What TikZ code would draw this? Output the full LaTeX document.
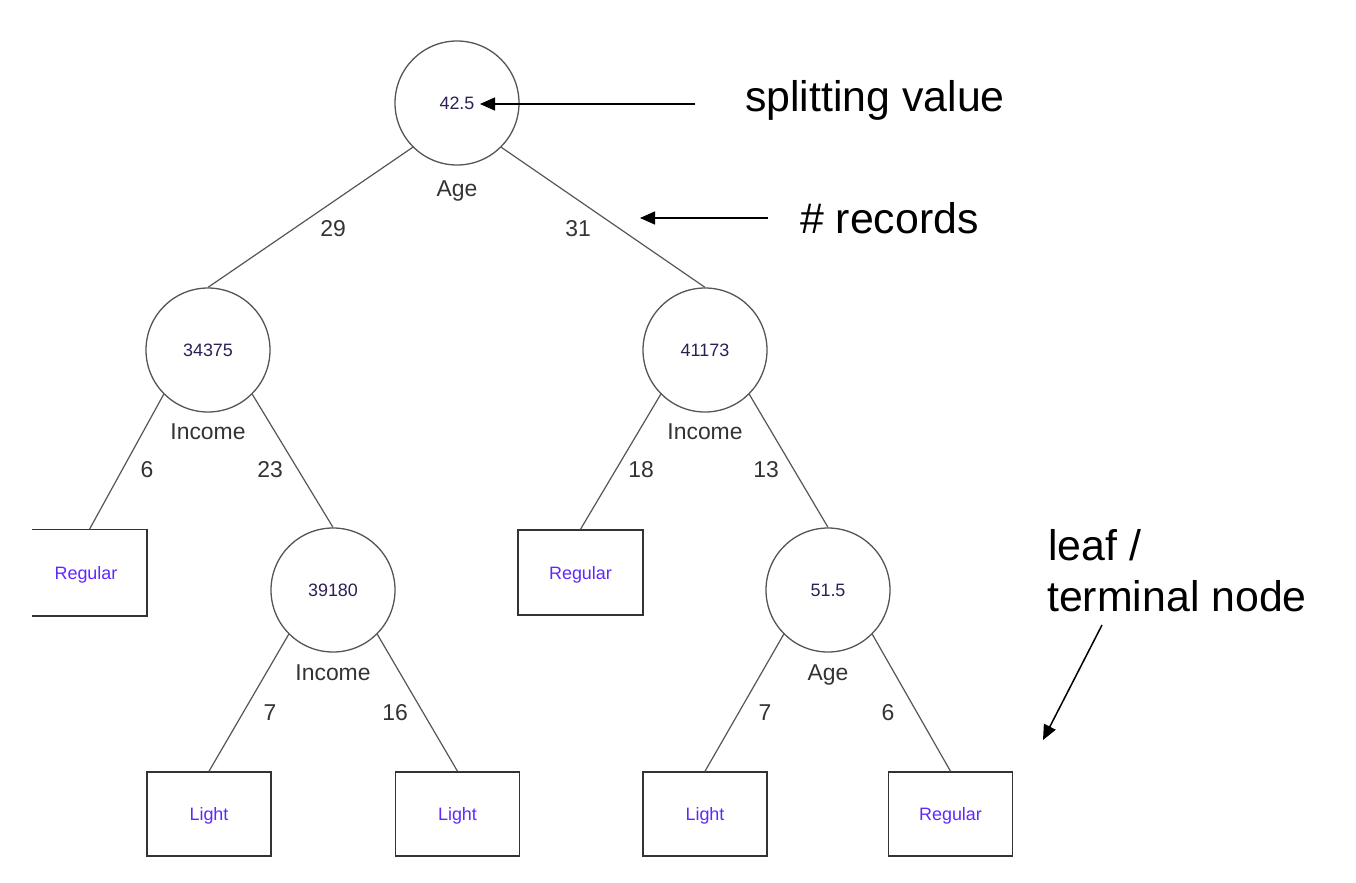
\documentclass[tikz,border=0pt]{standalone}
\usepackage{fontspec}
\setmainfont{Liberation Sans}
\usetikzlibrary{arrows.meta}
\definecolor{edgegray}{HTML}{555555}
\definecolor{txtgray}{HTML}{333333}
\definecolor{numcol}{HTML}{2E1F55}
\definecolor{leafcol}{HTML}{6028FF}
\begin{document}
\begin{tikzpicture}[x=1bp,y=-1bp,
 splitnode/.style={circle,draw=edgegray,line width=1.3bp,minimum size=124bp,inner sep=0pt,font=\fontsize{18}{20}\selectfont,text=numcol},
 leafbox/.style={rectangle,draw=txtgray,line width=1.5bp,minimum width=124bp,minimum height=84bp,inner sep=0pt,font=\fontsize{18}{20}\selectfont,text=leafcol,text height=13bp,text depth=0pt},
 leaftext/.style={inner sep=0pt,font=\fontsize{18}{20}\selectfont,text=leafcol,text height=13bp,text depth=0pt},
 branch/.style={draw=edgegray,line width=1.2bp},
 attrlabel/.style={anchor=base,font=\fontsize{23}{26}\selectfont,text=txtgray,inner sep=0pt},
 countlabel/.style={anchor=center,font=\fontsize{23}{26}\selectfont,text=txtgray,inner sep=0pt},
 annot/.style={font=\fontsize{43}{51}\selectfont,text=black,inner sep=0pt},
 annarrow/.style={-{Triangle[length=15bp,width=13bp]},line width=1.5bp,draw=black}]
\useasboundingbox (0,0) rectangle (1356,882);

% split nodes
\node[splitnode] (root) at (457,103) {42.5};
\node[splitnode] (L) at (208,350) {34375};
\node[splitnode] (R) at (705,350) {41173};
\node[splitnode] (LR) at (333,590) {39180};
\node[splitnode] (RR) at (828,590) {51.5};

% attribute labels
\node[attrlabel] (rootattr) at (457,196) {Age};
\node[attrlabel] (Lattr) at (208,439) {Income};
\node[attrlabel] (Rattr) at (705,439) {Income};
\node[attrlabel] (LRattr) at (333,680) {Income};
\node[attrlabel] (RRattr) at (828,680) {Age};

% leaves
\node[leafbox,draw=none,minimum width=113bp,minimum height=85bp] (LL) at (89.5,572.5) {};
\draw[draw=txtgray,line width=1.5bp] (LL.north west) -- (LL.north east) -- (LL.south east) -- (LL.south west);
\node[leaftext] (LLt) at (86,572.5) {Regular};
\node[leafbox,minimum width=125bp,minimum height=85bp] (RL) at (580.5,572.5) {Regular};
\node[leafbox] (LRL) at (209,814) {Light};
\node[leafbox] (LRR) at (457.5,814) {Light};
\node[leafbox] (RRL) at (705,814) {Light};
\node[leafbox] (RRR) at (950.5,814) {Regular};

% branches
\draw[branch] (root.south west) -- (L.north);
\draw[branch] (root.south east) -- (R.north);
\draw[branch] (L.south west) -- (LL.north);
\draw[branch] (L.south east) -- (LR.north);
\draw[branch] (R.south west) -- (RL.north);
\draw[branch] (R.south east) -- (RR.north);
\draw[branch] (LR.south west) -- (LRL.north);
\draw[branch] (LR.south east) -- (LRR.north);
\draw[branch] (RR.south west) -- (RRL.north);
\draw[branch] (RR.south east) -- (RRR.north);

% record counts
\node[countlabel] (c29) at (333,229) {29};
\node[countlabel] (c31) at (578,229) {31};
\node[countlabel] (c6a) at (147,470) {6};
\node[countlabel] (c23) at (270,470) {23};
\node[countlabel] (c18) at (641,470) {18};
\node[countlabel] (c13) at (766,470) {13};
\node[countlabel] (c7a) at (270,713) {7};
\node[countlabel] (c16) at (395,713) {16};
\node[countlabel] (c7b) at (765,713) {7};
\node[countlabel] (c6b) at (888,713) {6};

% annotations
\node[annot,anchor=base west] (sv) at (745,111.7) {splitting value};
\coordinate (svtail) at (695,104);
\coordinate (svtip) at (480,104);
\draw[annarrow] (svtail) -- (svtip);

\node[annot,anchor=base west] (rec) at (800,233) {\# records};
\coordinate (rectail) at (768,218);
\coordinate (rectip) at (640,218);
\draw[annarrow] (rectail) -- (rectip);

\node[annot,anchor=base west] (leafa) at (1048,560.7) {leaf /};
\node[annot,anchor=base west] (leafb) at (1047,611.7) {terminal node};
\coordinate (leaftail) at (1102,625);
\coordinate (leaftip) at (1043,740);
\draw[annarrow] (leaftail) -- (leaftip);
\end{tikzpicture}
\end{document}
